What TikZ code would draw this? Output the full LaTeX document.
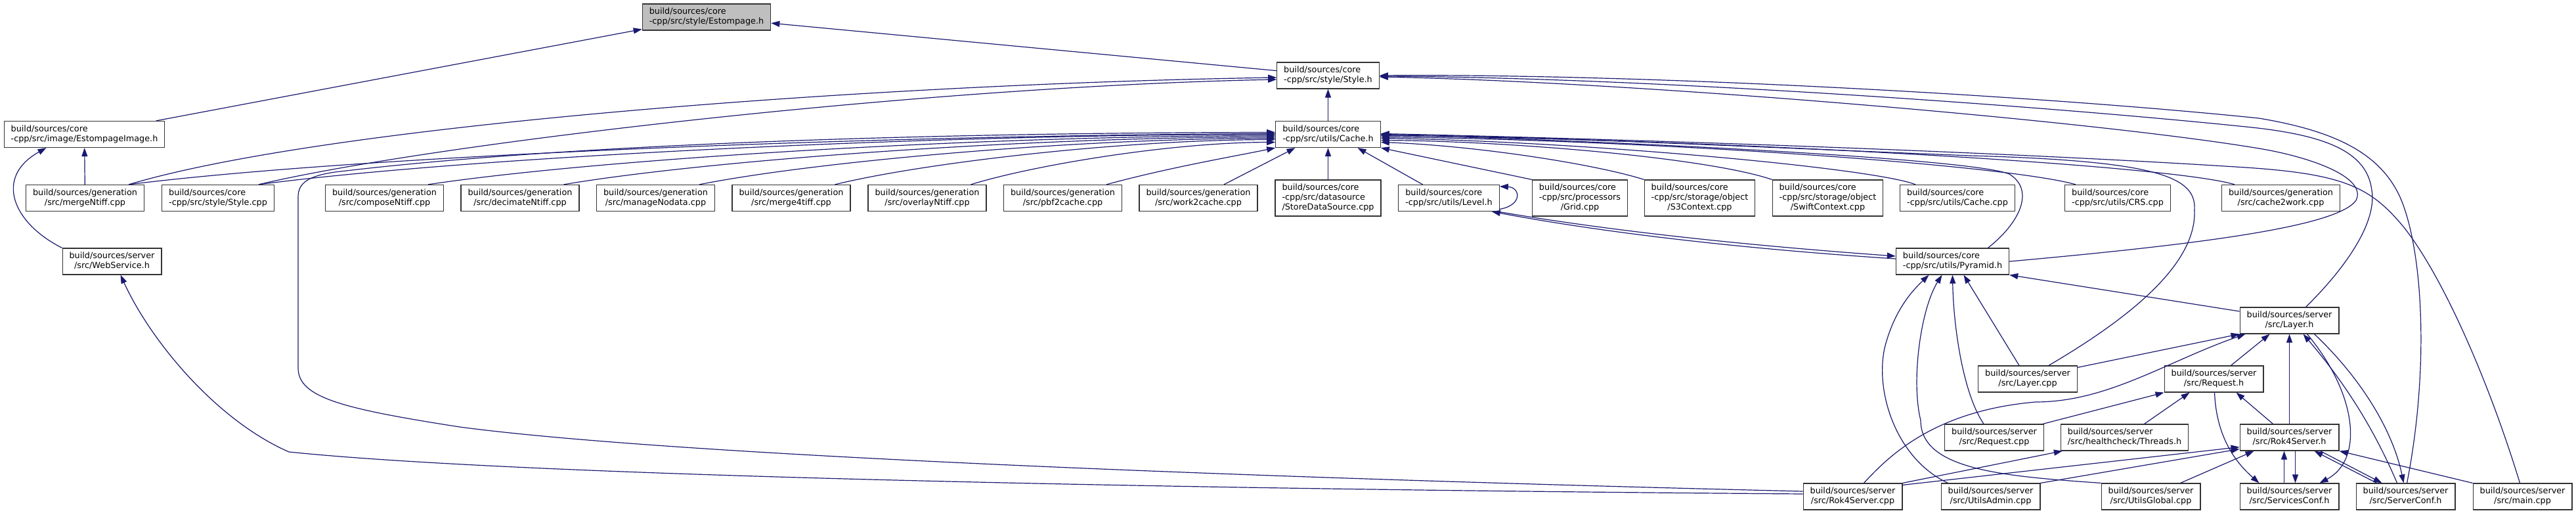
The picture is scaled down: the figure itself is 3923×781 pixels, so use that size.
\documentclass[tikz,border=0pt]{standalone}
\usepackage{fontspec}
\setmainfont{DejaVu Sans}
\usepackage{tikz}
\usetikzlibrary{arrows.meta, positioning}
\definecolor{edgeblue}{RGB}{25,25,112}
\newcommand{\twoln}[2]{\begin{tabular}{@{}l@{}}#1\\\multicolumn{1}{@{}c@{}}{#2}\end{tabular}}
\newcommand{\threeln}[3]{\begin{tabular}{@{}l@{}}#1\\#2\\\multicolumn{1}{@{}c@{}}{#3}\end{tabular}}

\begin{document}
\begin{tikzpicture}[x=1pt, y=-1pt,
  filebox/.style={draw=black!80, line width=1.2pt, fill=white, inner xsep=10.5pt, inner ysep=5pt, font=\fontsize{12.8}{15}\selectfont},
  mainbox/.style={filebox, fill=black!25},
  incl/.style={draw=edgeblue, line width=1.2pt, -{Triangle[length=13pt, width=9pt]}}
]
  \fill[white] (0,0) rectangle (3923,781);
  \useasboundingbox (0,0) rectangle (3923,781);

  % Top headers
  \node[mainbox] (estompage) at (1076,26) {\twoln{build/sources/core}{-cpp/src/style/Estompage.h}};
  \node[filebox] (styleh) at (2022.5,115) {\twoln{build/sources/core}{-cpp/src/style/Style.h}};
  \node[filebox] (estimg) at (128.5,204.5) {\twoln{build/sources/core}{-cpp/src/image/EstompageImage.h}};
  \node[filebox] (cacheh) at (2022.5,204.5) {\twoln{build/sources/core}{-cpp/src/utils/Cache.h}};

  % Row of files including Cache.h
  \node[filebox] (mergentiff) at (129.5,301.5) {\twoln{build/sources/generation}{/src/mergeNtiff.cpp}};
  \node[filebox] (stylecpp) at (332,301.5) {\twoln{build/sources/core}{-cpp/src/style/Style.cpp}};
  \node[filebox] (compose) at (585.5,301.5) {\twoln{build/sources/generation}{/src/composeNtiff.cpp}};
  \node[filebox] (decimate) at (792,301.5) {\twoln{build/sources/generation}{/src/decimateNtiff.cpp}};
  \node[filebox] (managenodata) at (998.5,301.5) {\twoln{build/sources/generation}{/src/manageNodata.cpp}};
  \node[filebox] (merge4tiff) at (1205,301.5) {\twoln{build/sources/generation}{/src/merge4tiff.cpp}};
  \node[filebox] (overlay) at (1412,301.5) {\twoln{build/sources/generation}{/src/overlayNtiff.cpp}};
  \node[filebox] (pbf2cache) at (1618.5,301.5) {\twoln{build/sources/generation}{/src/pbf2cache.cpp}};
  \node[filebox] (work2cache) at (1825,301.5) {\twoln{build/sources/generation}{/src/work2cache.cpp}};
  \node[filebox] (storeds) at (2022.5,301.5) {\threeln{build/sources/core}{-cpp/src/datasource}{/StoreDataSource.cpp}};
  \node[filebox] (levelh) at (2206.5,301.5) {\twoln{build/sources/core}{-cpp/src/utils/Level.h}};
  \node[filebox] (grid) at (2406,301.5) {\threeln{build/sources/core}{-cpp/src/processors}{/Grid.cpp}};
  \node[filebox] (s3ctx) at (2588.5,301.5) {\threeln{build/sources/core}{-cpp/src/storage/object}{/S3Context.cpp}};
  \node[filebox] (swiftctx) at (2783.5,301.5) {\threeln{build/sources/core}{-cpp/src/storage/object}{/SwiftContext.cpp}};
  \node[filebox] (cachecpp) at (2981,301.5) {\twoln{build/sources/core}{-cpp/src/utils/Cache.cpp}};
  \node[filebox] (crs) at (3225,301.5) {\twoln{build/sources/core}{-cpp/src/utils/CRS.cpp}};
  \node[filebox] (cache2work) at (3473.5,301.5) {\twoln{build/sources/generation}{/src/cache2work.cpp}};

  % Server side
  \node[filebox] (webservice) at (170.5,398) {\twoln{build/sources/server}{/src/WebService.h}};
  \node[filebox] (pyramid) at (2973.5,398) {\twoln{build/sources/core}{-cpp/src/utils/Pyramid.h}};
  \node[filebox] (layerh) at (3486.5,488) {\twoln{build/sources/server}{/src/Layer.h}};
  \node[filebox] (layercpp) at (3088,577) {\twoln{build/sources/server}{/src/Layer.cpp}};
  \node[filebox] (requesth) at (3371.5,577) {\twoln{build/sources/server}{/src/Request.h}};
  \node[filebox] (requestcpp) at (3037,666) {\twoln{build/sources/server}{/src/Request.cpp}};
  \node[filebox] (threads) at (3235.5,666) {\twoln{build/sources/server}{/src/healthcheck/Threads.h}};
  \node[filebox] (rok4serverh) at (3486.5,666) {\twoln{build/sources/server}{/src/Rok4Server.h}};
  \node[filebox] (rok4servercpp) at (2821.5,756) {\twoln{build/sources/server}{/src/Rok4Server.cpp}};
  \node[filebox] (utilsadmin) at (3031.5,756) {\twoln{build/sources/server}{/src/UtilsAdmin.cpp}};
  \node[filebox] (utilsglobal) at (3275.5,756) {\twoln{build/sources/server}{/src/UtilsGlobal.cpp}};
  \node[filebox] (servicesconf) at (3486.5,756) {\twoln{build/sources/server}{/src/ServicesConf.h}};
  \node[filebox] (serverconf) at (3663.5,756) {\twoln{build/sources/server}{/src/ServerConf.h}};
  \node[filebox] (maincpp) at (3841.5,756) {\twoln{build/sources/server}{/src/main.cpp}};

  % Edges to Estompage.h and Style.h
  \draw[incl] (estimg) -- (estompage);
  \draw[incl] (styleh) -- (estompage);
  \draw[incl] (cacheh) -- (styleh);
  \draw[incl] (mergentiff) -- (estimg);
  \draw[incl] (webservice.north west) .. controls (20,340) and (-10,270) .. ([xshift=-58pt]estimg.south);
  \draw[incl] ([xshift=-24pt]mergentiff.north east) .. controls (500,190) and (1330,128) .. ([yshift=-3pt]styleh.west);
  \draw[incl] ([xshift=-24pt]stylecpp.north east) .. controls (650,220) and (1400,132) .. ([yshift=-6pt]styleh.west);
  \draw[incl] (pyramid.east) .. controls (3350,372) and (3560,345) .. (3588,305) .. controls (3605,270) and (3520,240) .. (3446,227) .. controls (3200,185) and (2500,125) .. ([yshift=-2pt]styleh.east);
  \draw[incl] ([xshift=25pt]layerh.north) .. controls (3570,410) and (3620,340) .. (3612,290) .. controls (3605,230) and (3540,205) .. (3420,193) .. controls (3100,160) and (2500,118) .. ([yshift=-1pt]styleh.east);
  \draw[incl] ([xshift=2pt]serverconf.north) .. controls (3700,560) and (3690,380) .. (3655,300) .. controls (3625,235) and (3560,200) .. (3440,180) .. controls (3100,145) and (2500,112) .. (styleh.east);

  % Edges into Cache.h, left side
  \draw[incl] ([xshift=-24pt]mergentiff.north east) .. controls (546,237) and (1328,206) .. ([yshift=1pt]cacheh.west);
  \draw[incl] ([xshift=-24pt]stylecpp.north east) .. controls (704,240) and (1400,205) .. (cacheh.west);
  \draw[incl] ([xshift=-24pt]compose.north east) .. controls (911,242) and (1491,207) .. ([yshift=-2pt]cacheh.west);
  \draw[incl] ([xshift=-24pt]decimate.north east) .. controls (1076,244) and (1563,209) .. ([yshift=-4pt]cacheh.west);
  \draw[incl] ([xshift=-24pt]managenodata.north east) .. controls (1241,246) and (1635,211) .. ([yshift=-6pt]cacheh.west);
  \draw[incl] ([xshift=-24pt]merge4tiff.north east) .. controls (1406,248) and (1707,213) .. ([yshift=-8pt]cacheh.west);
  \draw[incl] ([xshift=-24pt]overlay.north east) .. controls (1572,252) and (1780,217) .. ([yshift=-12pt]cacheh.west);
  \draw[incl] ([xshift=-24pt]pbf2cache.north east) .. controls (1780,255) and (1880,238) .. (cacheh.south west);
  \draw[incl] ([xshift=39pt]work2cache.north) -- ([xshift=-50pt]cacheh.south);
  \draw[incl] (storeds) -- (cacheh);
  \draw[incl] ([xshift=-40pt]levelh.north) -- ([xshift=45pt]cacheh.south);
  \draw[incl] ([yshift=8pt]rok4servercpp.west) .. controls (1800,725) and (1000,690) .. (700,650) .. controls (520,622) and (454,605) .. (454,560) -- (454,300) .. controls (454,278) and (470,268) .. (510,262) .. controls (900,215) and (1500,202) .. ([yshift=3pt]cacheh.west);

  % Edges into Cache.h, right side
  \draw[incl] (grid.north west) -- (cacheh.south east);
  \draw[incl] (s3ctx.north west) .. controls (2430,250) and (2250,222) .. ([yshift=-12pt]cacheh.east);
  \draw[incl] (swiftctx.north west) .. controls (2600,240) and (2300,215) .. ([yshift=-9pt]cacheh.east);
  \draw[incl] ([xshift=24pt]cachecpp.north west) .. controls (2850,255) and (2400,215) .. ([yshift=-6pt]cacheh.east);
  \draw[incl] ([xshift=17pt]crs.north west) .. controls (3050,250) and (2500,213) .. ([yshift=-4pt]cacheh.east);
  \draw[incl] ([xshift=20pt]cache2work.north west) .. controls (3300,250) and (2600,212) .. ([yshift=-2pt]cacheh.east);
  \draw[incl] ([xshift=54pt]pyramid.north) .. controls (3075,340) and (3100,290) .. (3060,265) .. controls (3000,240) and (2400,212) .. ([yshift=-1pt]cacheh.east);
  \draw[incl] ([xshift=32pt]layercpp.north) .. controls (3250,480) and (3345,400) .. (3342,320) .. controls (3345,270) and (3290,245) .. (3000,237) .. controls (2700,225) and (2350,208) .. (cacheh.east);
  \draw[incl] ([xshift=-4pt]maincpp.north) .. controls (3790,580) and (3720,420) .. (3660,345) .. controls (3610,285) and (3570,265) .. (3420,255) .. controls (3000,228) and (2400,210) .. ([yshift=1pt]cacheh.east);

  % Level.h and Pyramid.h
  \draw[incl] ([yshift=-17pt]levelh.east) .. controls (2320,312) and (2315,285) .. ([yshift=-3pt]levelh.north east);
  \draw[incl] ([xshift=-3pt]levelh.south east) .. controls (2500,360) and (2750,380) .. ([yshift=8pt]pyramid.west);
  \draw[incl] ([yshift=4pt]pyramid.west) .. controls (2750,385) and (2500,365) .. ([xshift=-12pt]levelh.south east);
  \draw[incl] ([xshift=11pt]utilsadmin.north west) .. controls (2890,700) and (2855,600) .. (2870,530) .. controls (2885,470) and (2915,440) .. ([xshift=-36pt]pyramid.south);
  \draw[incl] (utilsglobal.north west) .. controls (3050,725) and (2925,715) .. (2925,640) .. controls (2910,580) and (2925,470) .. ([xshift=-16pt]pyramid.south);
  \draw[incl] ([xshift=-16pt]requestcpp.north) .. controls (2990,600) and (2975,500) .. (pyramid.south);
  \draw[incl] ([xshift=-13pt]layercpp.north) -- ([xshift=17pt]pyramid.south);
  \draw[incl] ([yshift=14pt]layerh.west) -- (pyramid.south east);

  % Layer.h and Request.h
  \draw[incl] ([yshift=-3pt]layercpp.north east) -- (layerh.south west);
  \draw[incl] ([xshift=17pt]rok4servercpp.north) .. controls (2880,690) and (2950,625) .. (3100,612) .. controls (3210,612) and (3300,550) .. ([xshift=9pt]layerh.south west);
  \draw[incl] ([xshift=26pt]requesth.north) -- ([xshift=-30pt]layerh.south);
  \draw[incl] (rok4serverh) -- (layerh);
  \draw[incl] ([xshift=-13pt]serverconf.north) .. controls (3610,640) and (3560,570) .. ([xshift=21pt]layerh.south);
  \draw[incl] ([xshift=38pt]layerh.south) .. controls (3600,580) and (3645,660) .. ([xshift=-3pt]serverconf.north);
  \draw[incl] ([xshift=27pt]layerh.south) .. controls (3590,600) and (3600,700) .. ([xshift=46pt]servicesconf.north);
  \draw[incl] ([xshift=-25pt]rok4serverh.north) -- ([xshift=34pt]requesth.south);
  \draw[incl] ([xshift=74pt]requestcpp.north) -- (requesth.south west);
  \draw[incl] ([xshift=30pt]threads.north) -- ([xshift=-37pt]requesth.south);
  \draw[incl] ([xshift=1pt]requesth.south) .. controls (3375,660) and (3400,700) .. ([xshift=-46pt]servicesconf.north);

  % Rok4Server.h and bottom row
  \draw[incl] ([xshift=-8pt]servicesconf.north) -- ([xshift=-8pt]rok4serverh.south);
  \draw[incl] ([xshift=9pt]rok4serverh.south) -- ([xshift=9pt]servicesconf.north);
  \draw[incl] ([xshift=-44pt]serverconf.north) -- ([xshift=38pt]rok4serverh.south);
  \draw[incl] ([xshift=47pt]rok4serverh.south) -- ([xshift=-36pt]serverconf.north);
  \draw[incl] (maincpp.north west) -- (rok4serverh.south east);
  \draw[incl] ([xshift=45pt]utilsglobal.north) -- ([xshift=-54pt]rok4serverh.south);
  \draw[incl] (utilsadmin.north east) -- ([yshift=3pt]rok4serverh.south west);
  \draw[incl] ([yshift=-3pt]rok4servercpp.north east) -- ([yshift=6pt]rok4serverh.south west);
  \draw[incl] (rok4servercpp.north east) -- ([xshift=3pt]threads.south west);
  \draw[incl] ([yshift=4pt]rok4servercpp.west) .. controls (1800,745) and (800,725) .. (440,688) .. controls (330,640) and (230,520) .. ([xshift=13pt]webservice.south);
\end{tikzpicture}
\end{document}
